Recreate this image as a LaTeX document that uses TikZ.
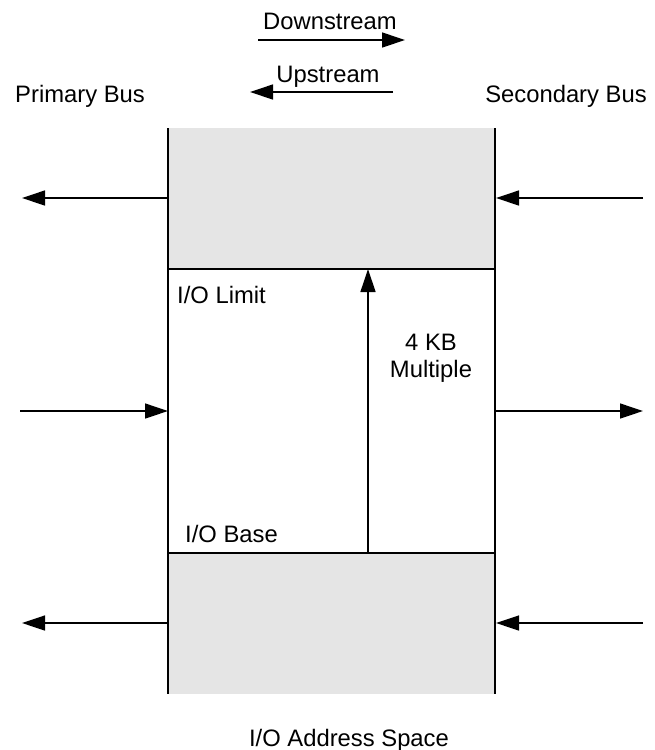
\documentclass[tikz,border=0pt]{standalone}
\usepackage{fontspec}
\setmainfont{Liberation Sans}
\usetikzlibrary{arrows.meta}
\definecolor{regiongray}{HTML}{E5E5E5}
\tikzset{
  lbl/.style={inner sep=0pt, font=\fontsize{23.8}{28}\selectfont},
  bar/.style={line width=2pt},
  flow/.style={line width=1.3pt, -{Triangle[length=23pt,width=15pt]}},
}
\begin{document}
\begin{tikzpicture}[x=1pt,y=-1pt]
\useasboundingbox (0,0) rectangle (654,750);
% gray regions
\fill[regiongray] (168,128) rectangle (495,269);
\fill[regiongray] (168,553) rectangle (495,694);
% column coordinates
\coordinate (LT) at (168,128);
\coordinate (LB) at (168,694);
\coordinate (RT) at (495,128);
\coordinate (RB) at (495,694);
\coordinate (LimL) at (168,269);
\coordinate (LimR) at (495,269);
\coordinate (BasL) at (168,553);
\coordinate (BasR) at (495,553);
\coordinate (LimM) at (368,269);
\coordinate (BasM) at (368,553);
\draw[bar] (LT) -- (LB);
\draw[bar] (RT) -- (RB);
\draw[bar] (LimL) -- (LimR);
\draw[bar] (BasL) -- (BasR);
\draw[flow] (BasM) -- (LimM);
% side arrow end points
\coordinate (a1s) at (168,198); \coordinate (a1e) at (22,198);
\coordinate (a2s) at (643,198); \coordinate (a2e) at (496,198);
\coordinate (a3s) at (20,411);  \coordinate (a3e) at (168,411);
\coordinate (a4s) at (496,411); \coordinate (a4e) at (643,411);
\coordinate (a5s) at (168,623); \coordinate (a5e) at (22,623);
\coordinate (a6s) at (643,623); \coordinate (a6e) at (496,623);
\draw[flow] (a1s) -- (a1e);
\draw[flow] (a2s) -- (a2e);
\draw[flow] (a3s) -- (a3e);
\draw[flow] (a4s) -- (a4e);
\draw[flow] (a5s) -- (a5e);
\draw[flow] (a6s) -- (a6e);
% legend arrows
\coordinate (ds) at (258,40); \coordinate (de) at (405,40);
\coordinate (us) at (393,92); \coordinate (ue) at (250,92);
\draw[flow] (ds) -- (de);
\draw[flow] (us) -- (ue);
% labels
\node[lbl, anchor=base] (down) at (330,29) {Downstream};
\node[lbl, anchor=base] (up) at (328,82) {Upstream};
\node[lbl, anchor=base] (prim) at (80,102) {Primary Bus};
\node[lbl, anchor=base] (sec) at (566,102) {Secondary Bus};
\node[lbl, anchor=base west] (lim) at (177,303) {I/O Limit};
\node[lbl, anchor=base west] (bas) at (185,542) {I/O Base};
\node[lbl, anchor=base] (kb) at (431,350) {4 KB};
\node[lbl, anchor=base] (mult) at (431,377) {Multiple};
\node[lbl, anchor=base] (space) at (349,746) {I/O Address Space};
\end{tikzpicture}
\end{document}
